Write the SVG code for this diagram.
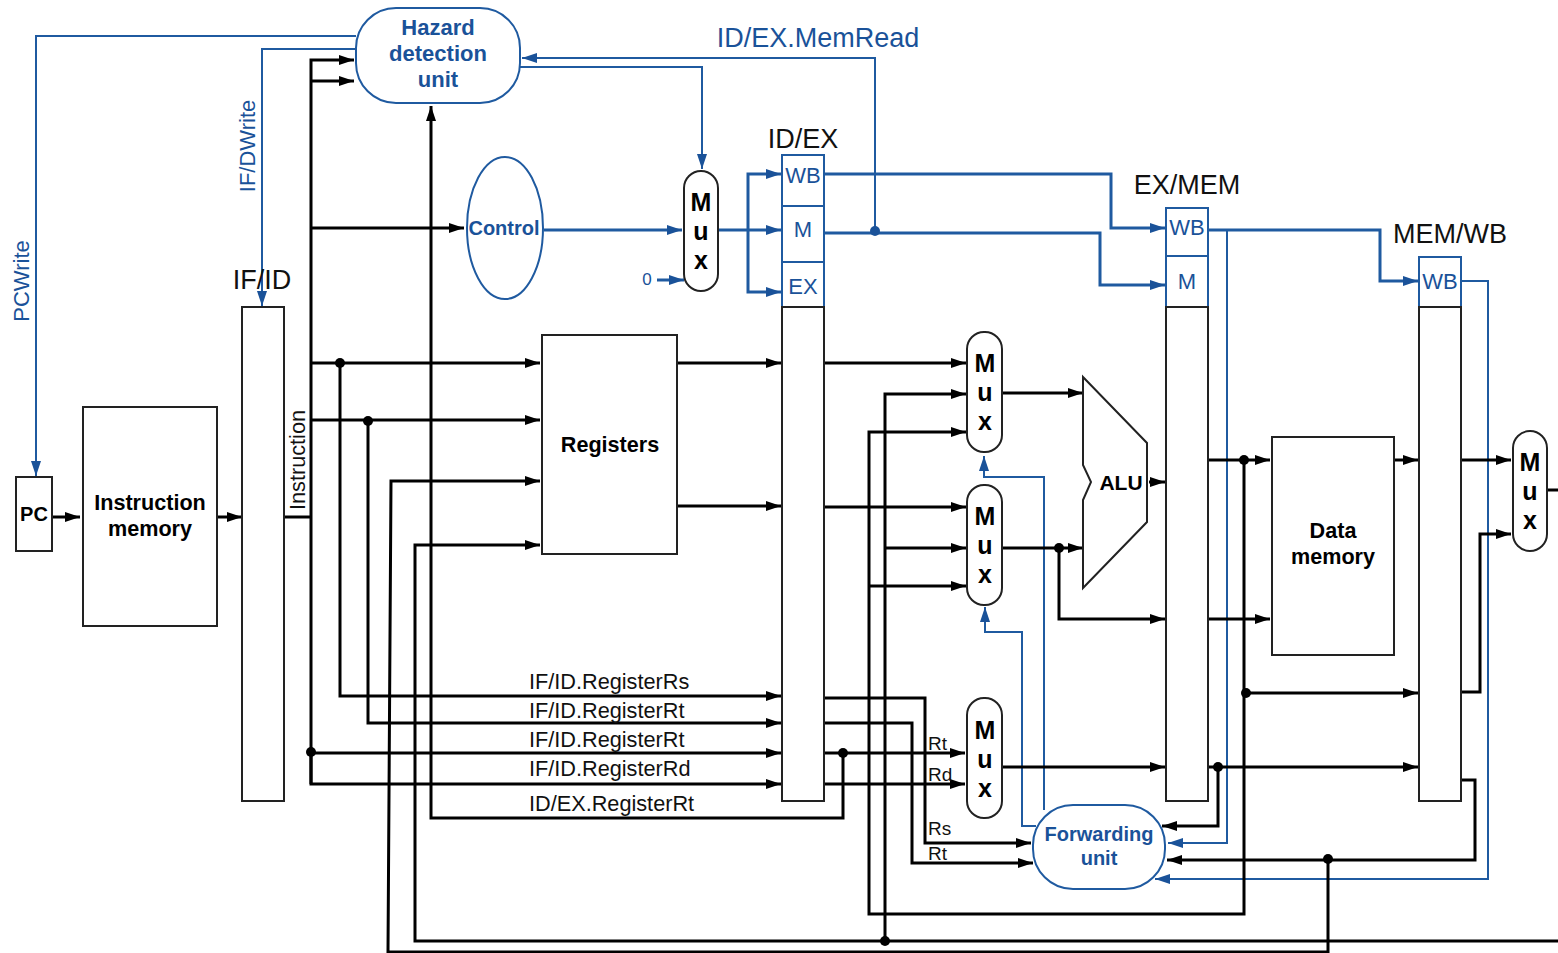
<svg xmlns="http://www.w3.org/2000/svg" width="1558" height="953" viewBox="0 0 1558 953">
<style>
text{font-family:"Liberation Sans",Arial,sans-serif;}
.n{fill:#fff;stroke:#222;stroke-width:2}
.bn{fill:#fff;stroke:#1f5aa0;stroke-width:2}
.k{fill:none;stroke:#000;stroke-width:3}
.b{fill:none;stroke:#1f5aa0;stroke-width:3}
.bt{fill:none;stroke:#1f5aa0;stroke-width:2}
.ka{marker-end:url(#ak)}
.ba{marker-end:url(#ab)}
.dk{fill:#000}
.db{fill:#1a5299}
.lb{font-size:21.6px;font-weight:bold;fill:#000;text-anchor:middle}
.bb{font-size:22px;font-weight:bold;fill:#1a5299;text-anchor:middle}
.bs{font-size:20px;font-weight:bold;fill:#1a5299;text-anchor:middle}
.mx{font-size:25px;font-weight:bold;fill:#000;text-anchor:middle}
.ti{font-size:27px;fill:#111;text-anchor:middle}
.bl{font-size:22px;fill:#1a5299;text-anchor:middle}
.sm{font-size:21.7px;fill:#111}
</style>
<defs>
<marker id="ak" markerUnits="userSpaceOnUse" markerWidth="16" markerHeight="12" refX="15" refY="6" orient="auto"><path d="M0 1L15 6L0 11Z" fill="#000"/></marker>
<marker id="ab" markerUnits="userSpaceOnUse" markerWidth="16" markerHeight="12" refX="15" refY="6" orient="auto"><path d="M0 1L15 6L0 11Z" fill="#1a5299"/></marker>
</defs>
<g id="connectors">
<path class="bt ba" d="M356 36H36V476"/>
<path class="bt ba" d="M356 49H262V306"/>
<path class="bt ba" d="M875 231V58H522"/>
<path class="bt ba" d="M520 67H702V169"/>
<path class="b ba" d="M544 230H682"/>
<path class="b ba" d="M657 280H684"/>
<path class="b ba" d="M718 230H781"/>
<path class="b ba" d="M748 230V174H781"/>
<path class="b ba" d="M748 230V292H781"/>
<path class="b ba" d="M825 174H1111V228H1165"/>
<path class="b ba" d="M825 233H1100V285H1165"/>
<path class="b ba" d="M1208 230H1380V281H1418"/>
<path class="bt ba" d="M1227 230V843H1168"/>
<path class="bt ba" d="M1461 281H1488V879H1155"/>
<path class="bt ba" d="M1044 810V477H984V456"/>
<path class="bt ba" d="M1036 826H1022V632H985V607"/>
<path class="k ka" d="M52 517H80"/>
<path class="k ka" d="M217 517H242"/>
<path class="k" d="M284 517H311"/>
<path class="k ka" d="M311 784V60H354"/>
<path class="k ka" d="M311 752V784H781"/>
<path class="k ka" d="M311 81H354"/>
<path class="k ka" d="M311 228H464"/>
<path class="k ka" d="M311 363H540"/>
<path class="k ka" d="M340 363V696H781"/>
<path class="k ka" d="M311 420H540"/>
<path class="k ka" d="M368 420V723H781"/>
<path class="k ka" d="M311 753H781"/>
<path class="k ka" d="M843 753V818H431V106"/>
<path class="k ka" d="M825 753H965"/>
<path class="k ka" d="M825 784H965"/>
<path class="k ka" d="M677 363H781"/>
<path class="k ka" d="M677 506H781"/>
<path class="k ka" d="M825 363H966"/>
<path class="k ka" d="M825 507H966"/>
<path class="k ka" d="M1328 859V952H388L391 481H540"/>
<path class="k ka" d="M1558 941H415V545H540"/>
<path class="k ka" d="M885 941V394H966"/>
<path class="k ka" d="M885 548H966"/>
<path class="k ka" d="M1244 460V914H869V432H966"/>
<path class="k ka" d="M869 586H966"/>
<path class="k ka" d="M1208 460H1270"/>
<path class="k ka" d="M1208 619H1270"/>
<path class="k ka" d="M1246 693H1418"/>
<path class="k ka" d="M1002 393H1083"/>
<path class="k ka" d="M1002 548H1083"/>
<path class="k ka" d="M1059 548V619H1165"/>
<path class="k ka" d="M1149 482H1165"/>
<path class="k ka" d="M1395 460H1418"/>
<path class="k ka" d="M1461 460H1511"/>
<path class="k ka" d="M1461 692H1480V534H1511"/>
<path class="k" d="M1547 490H1558"/>
<path class="k ka" d="M1002 767H1165"/>
<path class="k ka" d="M1208 767H1418"/>
<path class="k ka" d="M1218 767V826H1162"/>
<path class="k ka" d="M1461 780H1475V860H1167"/>
<path class="k ka" d="M825 698H925V843H1031"/>
<path class="k ka" d="M825 723H912V863H1033"/>
<circle class="db" cx="875" cy="231" r="5"/>
<circle class="dk" cx="340" cy="363" r="5"/>
<circle class="dk" cx="368" cy="421" r="5"/>
<circle class="dk" cx="311" cy="752" r="5"/>
<circle class="dk" cx="843" cy="753" r="5"/>
<circle class="dk" cx="885" cy="941" r="5"/>
<circle class="dk" cx="1059" cy="548" r="5"/>
<circle class="dk" cx="1244" cy="460" r="5"/>
<circle class="dk" cx="1246" cy="693" r="5"/>
<circle class="dk" cx="1218" cy="767" r="5"/>
<circle class="dk" cx="1328" cy="859" r="5"/>
</g>
<g id="pc"><rect class="n" x="16" y="477" width="36" height="74"/><text class="lb" x="34" y="521" style="font-size:20px">PC</text></g>
<g id="instruction-memory"><rect class="n" x="83" y="407" width="134" height="219"/><text class="lb" x="150" y="510">Instruction</text><text class="lb" x="150" y="536">memory</text></g>
<g id="if-id"><rect class="n" x="242" y="307" width="42" height="494"/><text class="ti" x="262" y="289">IF/ID</text></g>
<g id="hazard"><rect class="bn" x="356" y="8" width="164" height="95" rx="40"/><text class="bb" x="438" y="35">Hazard</text><text class="bb" x="438" y="61">detection</text><text class="bb" x="438" y="87">unit</text></g>
<g id="control"><ellipse class="bn" cx="505" cy="228" rx="38" ry="71"/><text class="bs" x="504" y="235">Control</text></g>
<g id="registers"><rect class="n" x="542" y="335" width="135" height="219"/><text class="lb" x="610" y="452">Registers</text></g>
<g id="mux-control"><rect class="n" x="684" y="171" width="34" height="120" rx="17"/><text class="mx" x="701" y="211">M</text><text class="mx" x="701" y="240">u</text><text class="mx" x="701" y="269">x</text></g>
<g id="id-ex"><rect class="bn" x="782" y="155" width="42" height="51"/><rect class="bn" x="782" y="206" width="42" height="56"/><rect class="bn" x="782" y="262" width="42" height="45"/><rect class="n" x="782" y="307" width="42" height="494"/><text class="bl" x="803" y="183">WB</text><text class="bl" x="803" y="237">M</text><text class="bl" x="803" y="294">EX</text><text class="ti" x="803" y="148">ID/EX</text></g>
<g id="mux-a"><rect class="n" x="967" y="332" width="35" height="120" rx="17"/><text class="mx" x="985" y="372">M</text><text class="mx" x="985" y="401">u</text><text class="mx" x="985" y="430">x</text></g>
<g id="mux-b"><rect class="n" x="967" y="485" width="35" height="120" rx="17"/><text class="mx" x="985" y="525">M</text><text class="mx" x="985" y="554">u</text><text class="mx" x="985" y="583">x</text></g>
<g id="mux-c"><rect class="n" x="967" y="698" width="35" height="120" rx="17"/><text class="mx" x="985" y="739">M</text><text class="mx" x="985" y="768">u</text><text class="mx" x="985" y="797">x</text></g>
<g id="alu"><path class="n" d="M1083 377L1147 443V522L1083 588V500L1091 482L1083 465Z"/><text class="lb" x="1121" y="490" style="font-size:21px">ALU</text></g>
<g id="ex-mem"><rect class="bn" x="1166" y="208" width="42" height="48"/><rect class="bn" x="1166" y="256" width="42" height="51"/><rect class="n" x="1166" y="307" width="42" height="494"/><text class="bl" x="1187" y="235">WB</text><text class="bl" x="1187" y="289">M</text><text class="ti" x="1187" y="194">EX/MEM</text></g>
<g id="data-memory"><rect class="n" x="1272" y="437" width="122" height="218"/><text class="lb" x="1333" y="538">Data</text><text class="lb" x="1333" y="564">memory</text></g>
<g id="mem-wb"><rect class="bn" x="1419" y="257" width="42" height="50"/><rect class="n" x="1419" y="307" width="42" height="494"/><text class="bl" x="1440" y="289">WB</text><text class="ti" x="1450" y="243">MEM/WB</text></g>
<g id="mux-d"><rect class="n" x="1513" y="431" width="34" height="120" rx="17"/><text class="mx" x="1530" y="471">M</text><text class="mx" x="1530" y="500">u</text><text class="mx" x="1530" y="529">x</text></g>
<g id="forwarding"><rect class="bn" x="1033" y="805" width="132" height="84" rx="40"/><text class="bs" x="1099" y="841">Forwarding</text><text class="bs" x="1099" y="865">unit</text></g>
<g id="labels">
<text class="bl" x="818" y="47" style="font-size:27px">ID/EX.MemRead</text>
<text class="bl" transform="translate(29 281) rotate(-90)">PCWrite</text>
<text class="bl" transform="translate(255 146) rotate(-90)">IF/DWrite</text>
<text class="sm" transform="translate(305 510) rotate(-90)">Instruction</text>
<text class="bl" x="647" y="285" style="font-size:17px">0</text>
<text class="sm" x="529" y="689">IF/ID.RegisterRs</text>
<text class="sm" x="529" y="718">IF/ID.RegisterRt</text>
<text class="sm" x="529" y="747">IF/ID.RegisterRt</text>
<text class="sm" x="529" y="776">IF/ID.RegisterRd</text>
<text class="sm" x="529" y="811">ID/EX.RegisterRt</text>
<text class="sm" x="928" y="750" style="font-size:19px">Rt</text>
<text class="sm" x="928" y="781" style="font-size:19px">Rd</text>
<text class="sm" x="928" y="835" style="font-size:19px">Rs</text>
<text class="sm" x="928" y="860" style="font-size:19px">Rt</text>
</g>
</svg>
